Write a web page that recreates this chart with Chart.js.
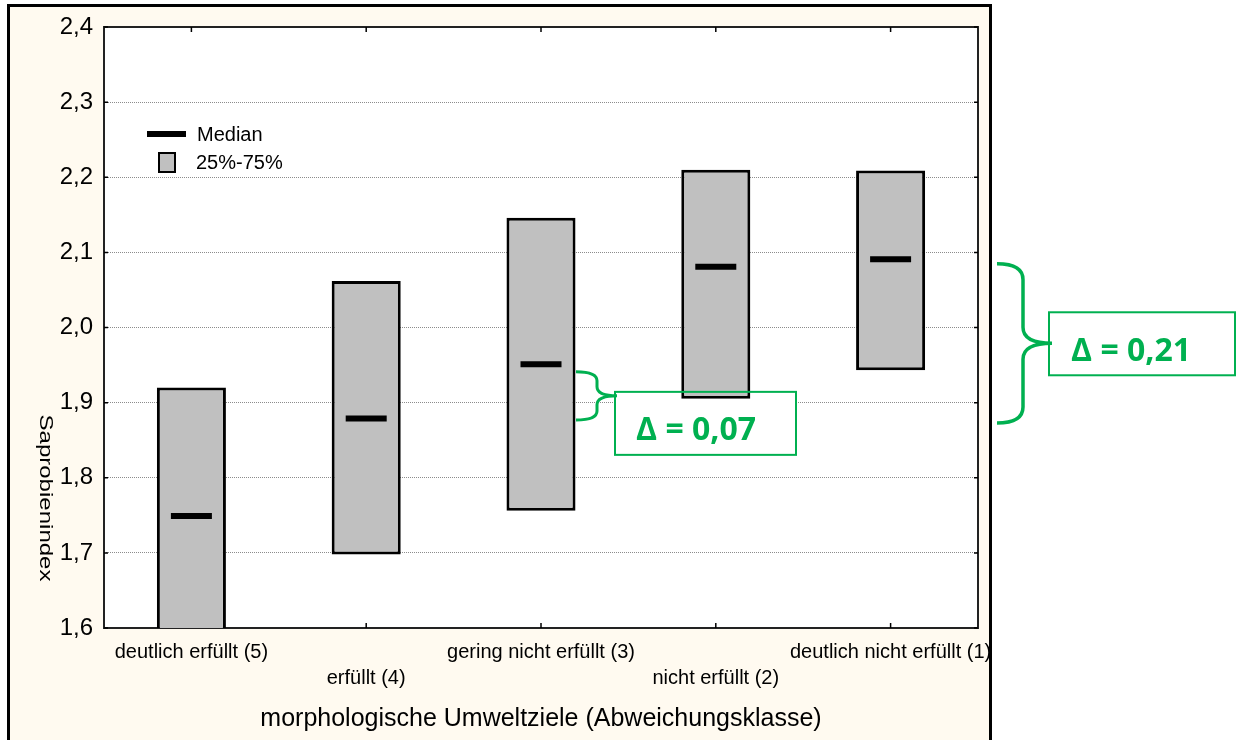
<!DOCTYPE html>
<html>
<head>
<meta charset="utf-8">
<script src="https://cdn.jsdelivr.net/npm/chart.js@4.4.1/dist/chart.umd.min.js"></script>
<style>
  html, body { margin: 0; padding: 0; background: #fff; }
  #wrap { position: relative; width: 1237px; height: 740px; }
</style>
</head>
<body>
<div id="wrap"><canvas id="chart"></canvas></div>
<script>
// DATEN
const kategorien = ['deutlich erfüllt (5)', 'erfüllt (4)', 'gering nicht erfüllt (3)', 'nicht erfüllt (2)', 'deutlich nicht erfüllt (1)'];
const quartil25 = [1.55, 1.698, 1.756, 1.905, 1.943];
const quartil75 = [1.92, 2.062, 2.146, 2.21, 2.209];
const mediane = [1.749, 1.879, 1.951, 2.081, 2.091];
const yMin = 1.6, yMax = 2.4, yStep = 0.1;

// Klammern / Delta-Kästen
const deltaTexte = ['Δ = 0,07', 'Δ = 0,21'];
const deltaOben = [1.941, 2.085];
const deltaUnten = [1.877, 1.873];

const GRUEN = '#00b050';
const FONT = "'Liberation Sans', Arial, sans-serif";

const boxDaten = quartil25.map((v, i) => [v, quartil75[i]]);

// Klammer zeichnen
function klammer(ctx, x0, xm, xt, yTop, yBot, r) {
    const yMid = (yTop + yBot) / 2;
    ctx.beginPath();
    ctx.moveTo(x0, yTop);
    ctx.quadraticCurveTo(xm, yTop, xm, yTop + r);
    ctx.lineTo(xm, yMid - r);
    ctx.quadraticCurveTo(xm, yMid, xt, yMid);
    ctx.quadraticCurveTo(xm, yMid, xm, yMid + r);
    ctx.lineTo(xm, yBot - r);
    ctx.quadraticCurveTo(xm, yBot, x0, yBot);
    ctx.stroke();
    return yMid;
}

const rahmenPlugin = {
    id: 'rahmen',
    beforeDraw(chart) {
        const { ctx, chartArea: a } = chart;
        ctx.save();
        ctx.fillStyle = '#fff';
        ctx.fillRect(0, 0, chart.width, chart.height);
        ctx.fillStyle = '#fffaf0';
        ctx.fillRect(8, 5, 983, 740);
        ctx.fillStyle = '#fff';
        ctx.fillRect(a.left, a.top, a.right - a.left, a.bottom - a.top);
        ctx.restore();
    },
    beforeDatasetsDraw(chart) {
        const { ctx, chartArea: a, scales } = chart;
        ctx.save();
        // Plotrahmen
        ctx.strokeStyle = '#222';
        ctx.lineWidth = 2;
        ctx.strokeRect(a.left, a.top, a.right - a.left, a.bottom - a.top);
        // Innenliegende Ticks
        ctx.lineWidth = 1.5;
        ctx.strokeStyle = '#000';
        ctx.beginPath();
        scales.y.ticks.forEach(t => {
            const y = scales.y.getPixelForValue(t.value);
            ctx.moveTo(a.left, y); ctx.lineTo(a.left + 4, y);
            ctx.moveTo(a.right, y); ctx.lineTo(a.right - 4, y);
        });
        kategorien.forEach((k, i) => {
            const x = scales.x.getPixelForValue(i);
            ctx.moveTo(x, a.bottom); ctx.lineTo(x, a.bottom - 5);
            ctx.moveTo(x, a.top); ctx.lineTo(x, a.top + 5);
        });
        ctx.stroke();
        // Hintergrund des kleinen Delta-Kastens (liegt unter den Boxen)
        const yMid = (scales.y.getPixelForValue(deltaOben[0]) + scales.y.getPixelForValue(deltaUnten[0])) / 2;
        ctx.fillStyle = '#fff';
        ctx.fillRect(615, yMid - 4, 181, 63);
        ctx.restore();
    },
    afterDraw(chart) {
        const { ctx, chartArea: a, scales } = chart;
        ctx.save();
        // Bereich rechts vom Rahmen
        ctx.fillStyle = '#fff';
        ctx.fillRect(993, 0, chart.width - 993, chart.height);
        ctx.strokeStyle = '#000';
        ctx.lineWidth = 3;
        ctx.strokeRect(8.5, 5.5, 982, 760);

        // Y-Achsentitel (von oben nach unten gelesen)
        ctx.save();
        ctx.translate(45, 498);
        ctx.rotate(Math.PI / 2);
        ctx.font = '18px ' + FONT;
        const w = ctx.measureText('Saprobienindex').width;
        ctx.scale(167 / w, 1);
        ctx.fillStyle = '#000';
        ctx.textAlign = 'center';
        ctx.textBaseline = 'middle';
        ctx.fillText('Saprobienindex', 0, 0);
        ctx.restore();

        // Legende
        ctx.fillStyle = '#000';
        ctx.fillRect(147, 131, 39, 6);
        ctx.fillStyle = '#c0c0c0';
        ctx.fillRect(159, 153, 16, 19);
        ctx.strokeStyle = '#000';
        ctx.lineWidth = 2;
        ctx.strokeRect(159, 153, 16, 19);
        ctx.fillStyle = '#000';
        ctx.font = '20px ' + FONT;
        ctx.textBaseline = 'middle';
        ctx.textAlign = 'left';
        ctx.fillText('Median', 197, 135);
        ctx.fillText('25%-75%', 196, 163);

        // Klammern und Delta-Kästen
        ctx.strokeStyle = GRUEN;
        ctx.fillStyle = GRUEN;
        ctx.font = "bold 32px 'Open Sans', sans-serif";
        ctx.textBaseline = 'alphabetic';

        ctx.lineWidth = 3;
        const m1 = klammer(ctx, 576, 597, 617,
            scales.y.getPixelForValue(deltaOben[0]), scales.y.getPixelForValue(deltaUnten[0]), 9);
        ctx.lineWidth = 2;
        ctx.strokeRect(615, m1 - 4, 181, 63);
        ctx.fillText(deltaTexte[0], 636, m1 + 44);

        ctx.lineWidth = 3.5;
        const m2 = klammer(ctx, 997, 1023, 1052,
            scales.y.getPixelForValue(deltaOben[1]), scales.y.getPixelForValue(deltaUnten[1]), 16);
        ctx.lineWidth = 2;
        ctx.strokeRect(1049, m2 - 31, 186, 63);
        ctx.fillText(deltaTexte[1], 1071, m2 + 18);
        ctx.restore();
    }
};

new Chart(document.getElementById('chart'), {
    data: {
        labels: kategorien,
        datasets: [
            {
                type: 'line',
                label: 'Median',
                data: mediane,
                showLine: false,
                pointStyle: 'line',
                pointRadius: 20.5,
                pointBorderWidth: 6,
                pointBorderColor: '#000',
                pointBackgroundColor: '#000',
                order: 0
            },
            {
                type: 'bar',
                label: '25%-75%',
                data: boxDaten,
                backgroundColor: '#c0c0c0',
                borderColor: '#000',
                borderWidth: 3,
                borderSkipped: false,
                barPercentage: 0.395,
                categoryPercentage: 1,
                order: 1
            }
        ]
    },
    options: {
        responsive: true,
        maintainAspectRatio: false,
        animation: false,
        events: [],
        layout: { padding: { top: 27, right: 259, left: 0, bottom: 0 } },
        plugins: {
            legend: { display: false },
            tooltip: { enabled: false }
        },
        scales: {
            x: {
                type: 'category',
                offset: true,
                grid: { display: false, drawTicks: false },
                border: { display: false },
                ticks: {
                    color: '#000',
                    font: { family: FONT, size: 20, lineHeight: 1.3 },
                    padding: 11,
                    maxRotation: 0,
                    minRotation: 0,
                    autoSkip: false,
                    callback: (v, i) => i % 2 ? ['', kategorien[i]] : kategorien[i]
                },
                title: {
                    display: true,
                    text: 'morphologische Umweltziele (Abweichungsklasse)',
                    color: '#000',
                    font: { family: FONT, size: 25 },
                    padding: { top: 0, bottom: 6 }
                },
                afterFit: s => { s.height = 112; }
            },
            y: {
                min: yMin,
                max: yMax,
                grid: { color: '#8c8c8c', lineWidth: 1, drawTicks: false },
                border: { display: false, dash: [1, 1] },
                ticks: {
                    stepSize: yStep,
                    color: '#000',
                    font: { family: FONT, size: 24 },
                    padding: 11,
                    callback: v => v.toFixed(1).replace('.', ',')
                },
                afterFit: s => { s.width = 104; }
            }
        }
    },
    plugins: [rahmenPlugin]
});
</script>
</body>
</html>
